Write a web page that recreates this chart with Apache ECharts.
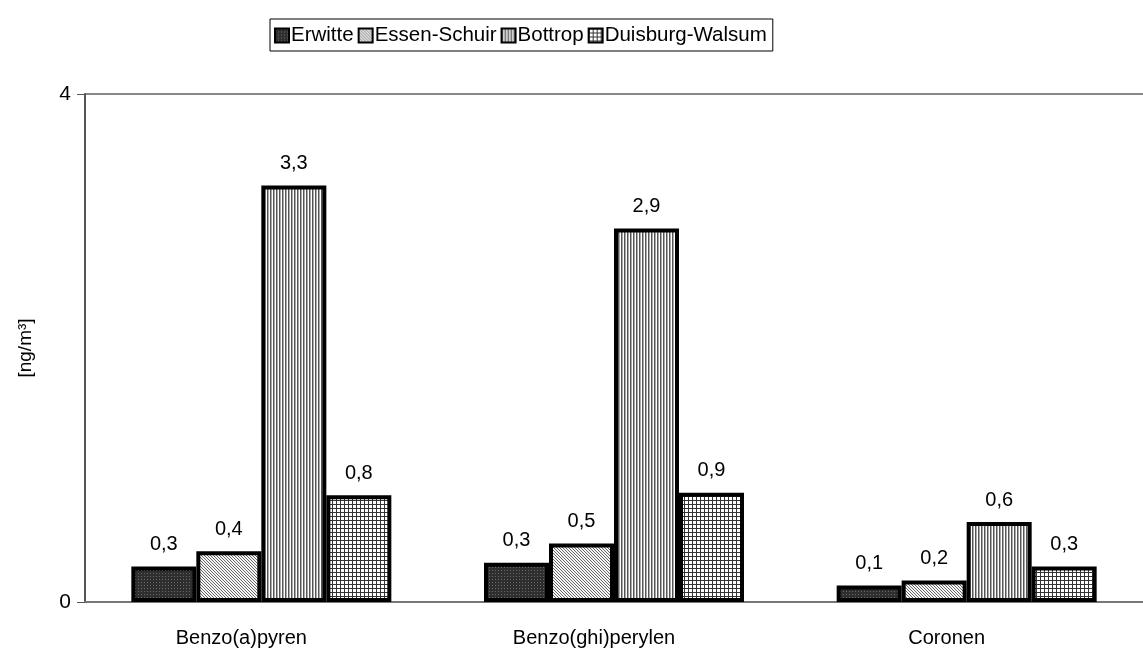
<!DOCTYPE html>
<html>
<head>
<meta charset="utf-8">
<script src="https://cdn.jsdelivr.net/npm/echarts@6/dist/echarts.min.js"></script>
<style>
  html, body { margin: 0; padding: 0; background: #fff; }
  #chart { width: 1143px; height: 654px; }
</style>
</head>
<body>
<div id="chart"></div>
<script>
// Substances (categories) and measuring stations (series)
const categories = ['Benzo(a)pyren', 'Benzo(ghi)perylen', 'Coronen'];
const erwitte = [0.28, 0.31, 0.13];
const essenSchuir = [0.40, 0.46, 0.17];
const bottrop = [3.28, 2.94, 0.63];
const duisburgWalsum = [0.84, 0.86, 0.28];
const stationNames = ['Erwitte', 'Essen-Schuir', 'Bottrop', 'Duisburg-Walsum'];
const yTicks = [0, 4];

// Small repeating fill patterns, one per station
function makePattern(size, draw) {
  const c = document.createElement('canvas');
  c.width = size; c.height = size;
  const ctx = c.getContext('2d');
  draw(ctx, size);
  return { image: c, repeat: 'repeat' };
}
const patterns = [
  // dark dotted
  makePattern(3, (ctx, s) => {
    ctx.fillStyle = '#2e2e2e'; ctx.fillRect(0, 0, s, s);
    ctx.fillStyle = '#6a6a6a'; ctx.fillRect(0, 0, 1, 1);
  }),
  // fine diagonal hatch
  makePattern(3, (ctx, s) => {
    ctx.fillStyle = '#f6f6f6'; ctx.fillRect(0, 0, s, s);
    ctx.fillStyle = '#666666';
    for (let i = 0; i < s; i++) ctx.fillRect(i, i, 1, 1);
  }),
  // vertical stripes
  makePattern(3, (ctx, s) => {
    ctx.fillStyle = '#ffffff'; ctx.fillRect(0, 0, s, s);
    ctx.fillStyle = '#555555'; ctx.fillRect(0, 0, 1, s);
    ctx.fillStyle = '#aaaaaa'; ctx.fillRect(1, 0, 1, s);
  }),
  // small grid
  makePattern(4, (ctx, s) => {
    ctx.fillStyle = '#ffffff'; ctx.fillRect(0, 0, s, s);
    ctx.fillStyle = '#333333';
    ctx.fillRect(0, 0, s, 1);
    ctx.fillRect(0, 0, 1, s);
  })
];

const seriesData = [erwitte, essenSchuir, bottrop, duisburgWalsum];
const font = 'Liberation Sans, Arial, sans-serif';

const chart = echarts.init(document.getElementById('chart'), null, { renderer: 'canvas' });
chart.setOption({
  backgroundColor: '#ffffff',
  animation: false,
  textStyle: { fontFamily: font },
  legend: {
    data: stationNames,
    left: 270,
    top: 19,
    orient: 'horizontal',
    itemWidth: 14,
    itemHeight: 14,
    itemGap: 4,
    padding: [6, 6, 5, 4],
    borderColor: '#000',
    borderWidth: 1,
    borderRadius: 0,
    icon: 'rect',
    itemStyle: { borderWidth: 2, borderColor: '#000' },
    textStyle: { fontSize: 20.5, color: '#000', fontFamily: font, padding: [0, 0, 0, -3] }
  },
  grid: { left: 85, right: 0, top: 94, bottom: 52, containLabel: false },
  xAxis: {
    type: 'category',
    data: categories,
    axisLine: { show: true, lineStyle: { color: '#777', width: 2 } },
    axisTick: { show: false },
    axisLabel: {
      fontSize: 20, color: '#000', margin: 26, fontFamily: font,
      padding: [0, 40, 0, 0]
    },
    splitLine: { show: false }
  },
  yAxis: {
    type: 'value',
    min: yTicks[0],
    max: yTicks[yTicks.length - 1],
    interval: yTicks[1] - yTicks[0],
    name: '[ng/m³]',
    nameLocation: 'middle',
    nameGap: 50,
    nameRotate: 90,
    nameTextStyle: { fontSize: 19, color: '#000', fontFamily: font },
    axisLine: { show: true, lineStyle: { color: '#555', width: 2 } },
    axisTick: { show: true, inside: false, length: 8, lineStyle: { color: '#555', width: 1 } },
    axisLabel: { fontSize: 21, color: '#000', margin: 14, fontFamily: font },
    splitLine: { show: true, lineStyle: { color: '#888', width: 2 } }
  },
  series: stationNames.map((name, i) => ({
    name: name,
    type: 'bar',
    data: seriesData[i],
    barWidth: 65,
    barGap: '0%',
    itemStyle: {
      color: patterns[i],
      borderColor: '#000',
      borderWidth: 4
    },
    label: {
      show: true,
      position: 'top',
      distance: 12,
      fontSize: 20,
      color: '#000',
      fontFamily: font,
      formatter: p => p.value.toFixed(1).replace('.', ',')
    }
  }))
});
</script>
</body>
</html>
